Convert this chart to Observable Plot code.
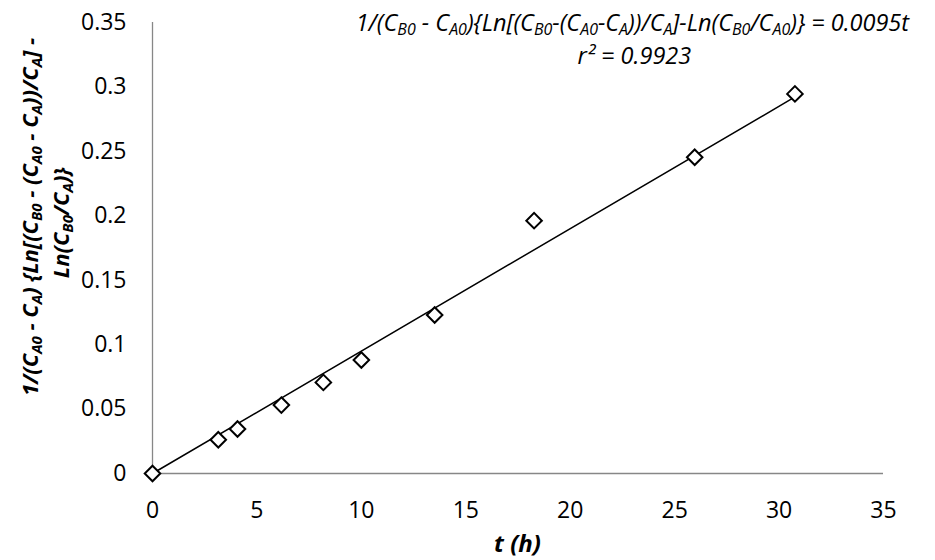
<!DOCTYPE html>
<html>
<head>
<meta charset="utf-8">
<script src="https://cdn.jsdelivr.net/npm/d3@7"></script>
<script src="https://cdn.jsdelivr.net/npm/@observablehq/plot@0.6"></script>
<style>
  html, body { margin: 0; padding: 0; background: #fff; }
  #chart { width: 935px; height: 560px; }
  svg { font-family: "Open Sans", sans-serif; }
</style>
</head>
<body>
<div id="chart"></div>
<script>
// Data
const tHours = [0, 3.15, 4.07, 6.17, 8.18, 10.0, 13.51, 18.27, 25.96, 30.76];
const conv   = [0, 0.0262, 0.0345, 0.0531, 0.0707, 0.0881, 0.123, 0.1962, 0.2454, 0.2946];
const xTicks = [0, 5, 10, 15, 20, 25, 30, 35];
const yTicks = [0, 0.05, 0.1, 0.15, 0.2, 0.25, 0.3, 0.35];
const yTickLabels = ["0", "0.05", "0.1", "0.15", "0.2", "0.25", "0.3", "0.35"];
// Linear fit through origin (slope from the chart's equation)
const fitSlope = 0.0095;
const fitRange = [0, 30.76];
const rSquared = "0.9923";

const points = tHours.map((t, i) => ({t, v: conv[i]}));
const fitLine = fitRange.map(t => ({t, v: fitSlope * t}));

const axisColor = "#878787";

const plot = Plot.plot({
  width: 935,
  height: 560,
  marginLeft: 152,
  marginRight: 52,
  marginTop: 22,
  marginBottom: 87,
  style: {fontFamily: "Open Sans, sans-serif", fontSize: "23px", color: "#000", background: "#fff"},
  x: {domain: [0, 35], ticks: xTicks, tickSize: 0, tickPadding: 28, label: null},
  y: {domain: [0, 0.35], ticks: yTicks, tickSize: 0, tickPadding: 26, label: null,
      tickFormat: d => yTickLabels[yTicks.indexOf(d)] ?? String(d)},
  marks: [
    Plot.ruleY([0], {stroke: axisColor, strokeWidth: 1.3}),
    Plot.ruleX([0], {stroke: axisColor, strokeWidth: 1.3}),
    Plot.line(fitLine, {x: "t", y: "v", stroke: "#000", strokeWidth: 1.5}),
    Plot.dot(points, {x: "t", y: "v", symbol: "diamond2", r: 7, stroke: "#000", strokeWidth: 2, fill: "#fff"})
  ]
});

document.getElementById("chart").appendChild(plot);

const svg = d3.select(plot);
const xs = plot.scale("x"), ys = plot.scale("y");

// rich text helper: parts = [[text, isSub], ...]
function rich(g, parts, opts) {
  const shift = opts.size * (opts.subShift ?? 0.2);
  const t = g.append("text")
    .attr("x", opts.x).attr("y", opts.y)
    .attr("text-anchor", "middle")
    .attr("font-size", opts.size)
    .attr("font-style", "italic")
    .attr("font-weight", opts.weight || "normal")
    .attr("fill", "#000");
  if (opts.transform) t.attr("transform", opts.transform);
  let prevSub = false;
  parts.forEach(([s, sub]) => {
    const ts = t.append("tspan").text(s);
    if (sub) {
      ts.attr("font-size", opts.size * 0.68).attr("dy", prevSub ? 0 : shift);
    } else {
      ts.attr("dy", prevSub ? -shift : 0);
    }
    prevSub = !!sub;
  });
  return t;
}

const ann = svg.append("g");
const annX = (xs.apply(22.95) + xs.apply(23.05)) / 2;
rich(ann, [
  ["1/(C", 0], ["B0", 1], [" - C", 0], ["A0", 1], [")", 0], ["{Ln[(C", 0], ["B0", 1],
  ["-(C", 0], ["A0", 1], ["-C", 0], ["A", 1], ["))/C", 0], ["A", 1], ["]-Ln(C", 0],
  ["B0", 1], ["/C", 0], ["A0", 1], [")} = 0.0095t", 0]
], {x: annX, y: 31, size: 23.5, subShift: 0.15});
ann.append("text")
  .attr("x", annX + 2).attr("y", 63.5)
  .attr("text-anchor", "middle")
  .attr("font-size", 23.5).attr("font-style", "italic").attr("fill", "#000")
  .text("r² = " + rSquared);

// y-axis title (two lines, rotated)
rich(svg.append("g"), [
  ["1/(C", 0], ["A0", 1], [" - C", 0], ["A", 1], [") {Ln[(C", 0], ["B0", 1],
  [" - (C", 0], ["A0", 1], [" - C", 0], ["A", 1], ["))/C", 0], ["A", 1], ["] -", 0]
], {x: 0, y: 0, size: 22, weight: "bold", transform: `translate(38,217) rotate(-90)`});
rich(svg.append("g"), [
  ["Ln(C", 0], ["B0", 1], ["/C", 0], ["A", 1], [")}", 0]
], {x: 0, y: 0, size: 22, weight: "bold", transform: `translate(69,223) rotate(-90)`});

// x-axis title
rich(svg.append("g"), [["t (h)", 0]], {x: (xs.range[0] + xs.range[1]) / 2, y: 552, size: 24, weight: "bold"});
</script>
</body>
</html>
